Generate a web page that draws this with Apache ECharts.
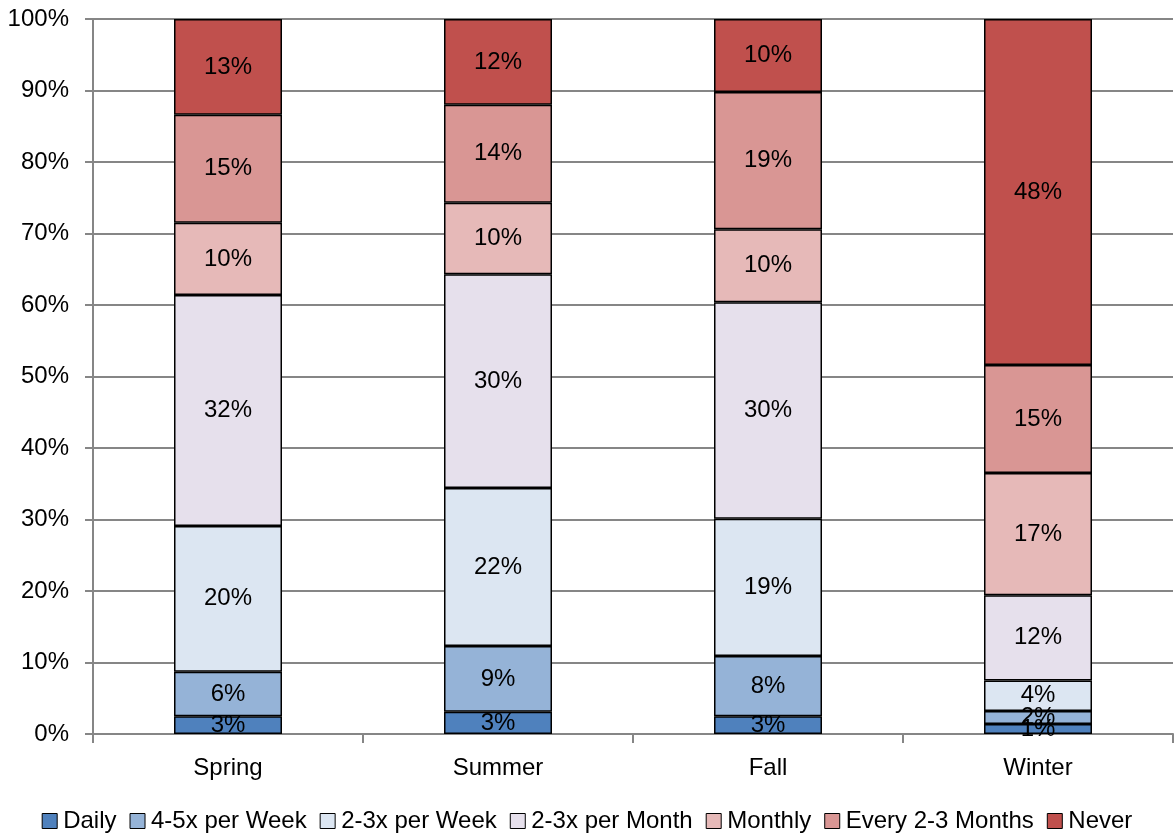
<!DOCTYPE html>
<html>
<head>
<meta charset="utf-8">
<script src="https://cdn.jsdelivr.net/npm/echarts@6/dist/echarts.min.js"></script>
<style>
  html, body { margin: 0; padding: 0; background: #fff; }
  #chart { width: 1174px; height: 838px; }
</style>
</head>
<body>
<div id="chart"></div>
<script>
const seasons = ['Spring', 'Summer', 'Fall', 'Winter'];
const seriesNames = ['Daily', '4-5x per Week', '2-3x per Week', '2-3x per Month', 'Monthly', 'Every 2-3 Months', 'Never'];
const daily = [2.5, 3.1, 2.5, 1.4];
const perWeek45 = [6.2, 9.2, 8.4, 1.8];
const perWeek23 = [20.4, 22.1, 19.2, 4.3];
const perMonth23 = [32.3, 29.9, 30.3, 11.9];
const monthly = [10.1, 10.0, 10.2, 17.1];
const every23Months = [15.1, 13.7, 19.2, 15.1];
const never = [13.4, 12.0, 10.2, 48.4];
const colors = ['#4F81BD', '#95B3D7', '#DCE6F2', '#E6E0EC', '#E6B9B8', '#D99694', '#C0504D'];

const allData = [daily, perWeek45, perWeek23, perMonth23, monthly, every23Months, never];
const font = "'Liberation Sans Narrow', 'Liberation Sans', sans-serif";
const fs = 24;

let chart = echarts.init(document.getElementById('chart'));
chart.setOption({
    animation: false,
    color: colors,
    textStyle: { fontFamily: font },
    grid: { left: 93, right: 1, top: 19, bottom: 104 },
    legend: {
        bottom: 0,
        left: 'center',
        itemWidth: 15,
        itemHeight: 15,
        itemGap: 13,
        icon: 'rect',
        itemStyle: { borderColor: '#000', borderWidth: 1 },
        textStyle: { fontSize: fs, color: '#000', fontFamily: font, padding: [0, 0, 0, 1] },
        data: seriesNames
    },
    xAxis: {
        type: 'category',
        data: seasons,
        axisLine: { lineStyle: { color: '#868686', width: 2 } },
        axisTick: { show: true, length: 9, lineStyle: { color: '#868686', width: 2 } },
        axisLabel: { fontSize: fs, color: '#000', margin: 22, fontFamily: font }
    },
    yAxis: {
        type: 'value',
        min: 0,
        max: 100,
        interval: 10,
        axisLine: { show: true, lineStyle: { color: '#868686', width: 2 } },
        axisTick: { show: true, length: 8, lineStyle: { color: '#868686', width: 2 } },
        splitLine: { lineStyle: { color: '#868686', width: 2 } },
        axisLabel: { fontSize: fs, color: '#000', margin: 24, fontFamily: font, formatter: '{value}%' }
    },
    series: seriesNames.map(function (name, i) {
        return {
            name: name,
            type: 'bar',
            stack: 'total',
            barWidth: '40%',
            data: allData[i],
            itemStyle: { borderColor: '#000', borderWidth: 1.5 },
            label: {
                show: true,
                position: 'inside',
                color: '#000',
                fontSize: fs,
                fontFamily: font,
                formatter: function (p) { return Math.round(p.value) + '%'; }
            }
        };
    })
});
</script>
</body>
</html>
